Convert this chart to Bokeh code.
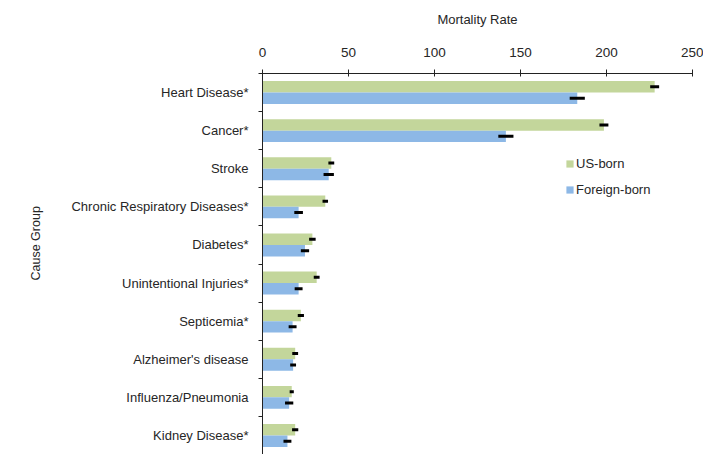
from bokeh.plotting import figure
from bokeh.models import ColumnDataSource, Range1d, FixedTicker, Title
from bokeh.embed import file_html
from bokeh.resources import INLINE

categories = ["Heart Disease*", "Cancer*", "Stroke", "Chronic Respiratory Diseases*",
              "Diabetes*", "Unintentional Injuries*", "Septicemia*",
              "Alzheimer's disease", "Influenza/Pneumonia", "Kidney Disease*"]
us_born = [228, 198.5, 40, 36.5, 29, 31.5, 22.3, 19, 17, 19]
us_err = [2.6, 2.6, 1.7, 1.6, 1.9, 1.7, 1.8, 1.7, 1.2, 1.8]
foreign_born = [183, 141.5, 38.5, 21, 24.7, 21, 17.5, 17.8, 15.5, 14.5]
fb_err = [4.4, 4.4, 3.0, 2.5, 2.4, 2.3, 2.3, 1.7, 2.4, 2.3]
x_ticks = [0, 50, 100, 150, 200, 250]

FONT = "Liberation Sans"
TXT = "#262626"
GREEN = "#c3d69b"
BLUE = "#8db8e6"

n = len(categories)
centers = [n - 0.5 - i for i in range(n)]
off = 0.15

src_us = ColumnDataSource(dict(
    y=[c + off for c in centers], v=us_born,
    lo=[v - e for v, e in zip(us_born, us_err)],
    hi=[v + e for v, e in zip(us_born, us_err)]))
src_fb = ColumnDataSource(dict(
    y=[c - off for c in centers], v=foreign_born,
    lo=[v - e for v, e in zip(foreign_born, fb_err)],
    hi=[v + e for v, e in zip(foreign_born, fb_err)]))

p = figure(width=703, height=454, output_backend="svg", toolbar_location=None,
           x_range=Range1d(0, 250), y_range=Range1d(0, n),
           x_axis_location="above",
           min_border_left=262, min_border_right=11, min_border_top=73,
           min_border_bottom=0)
p.outline_line_color = None
p.xgrid.visible = False
p.ygrid.visible = False
p.background_fill_color = "white"
p.border_fill_color = "white"

p.hbar(y="y", right="v", left=0, height=0.3, source=src_us, fill_color=GREEN,
       line_color=None, legend_label="US-born")
p.hbar(y="y", right="v", left=0, height=0.3, source=src_fb, fill_color=BLUE,
       line_color=None, legend_label="Foreign-born")
p.segment(x0="lo", x1="hi", y0="y", y1="y", source=src_us, line_color="black",
          line_width=3)
p.segment(x0="lo", x1="hi", y0="y", y1="y", source=src_fb, line_color="black",
          line_width=3)

xa = p.xaxis[0]
xa.ticker = FixedTicker(ticks=x_ticks)
xa.axis_label = "Mortality Rate"
xa.axis_label_text_font = FONT
xa.axis_label_text_font_style = "normal"
xa.axis_label_text_font_size = "13px"
xa.axis_label_text_color = TXT
xa.axis_label_standoff = 18
xa.major_label_text_font = FONT
xa.major_label_text_font_size = "13.5px"
xa.major_label_text_color = TXT
xa.major_label_standoff = 13
xa.major_tick_in = 3
xa.major_tick_out = 4
xa.minor_tick_line_color = None
xa.axis_line_color = "#222222"
xa.major_tick_line_color = "#222222"

ya = p.yaxis[0]
ya.ticker = FixedTicker(ticks=centers, minor_ticks=list(range(n + 1)))
ya.major_label_overrides = {c: lab for c, lab in zip(centers, categories)}
ya.major_tick_line_color = None
ya.major_tick_in = 0
ya.major_tick_out = 0
ya.minor_tick_in = 0
ya.minor_tick_out = 4
ya.minor_tick_line_color = "#222222"
ya.axis_line_color = "#222222"
ya.major_label_text_font = FONT
ya.major_label_text_font_size = "13px"
ya.major_label_text_color = TXT
ya.major_label_standoff = 10

p.add_layout(Title(text="Cause Group", align="left", offset=174, standoff=51,
                   text_font=FONT, text_font_size="12.5px",
                   text_font_style="normal", text_color=TXT), "left")

lg = p.legend[0]
lg.location = (303, 256)
lg.border_line_color = None
lg.background_fill_alpha = 0
lg.padding = 0
lg.margin = 0
lg.spacing = 8
lg.glyph_width = 9
lg.glyph_height = 9
lg.label_height = 18
lg.label_standoff = 2
lg.label_text_font = FONT
lg.label_text_font_size = "13px"
lg.label_text_color = TXT

open("out.html", "w").write(file_html(p, INLINE))
